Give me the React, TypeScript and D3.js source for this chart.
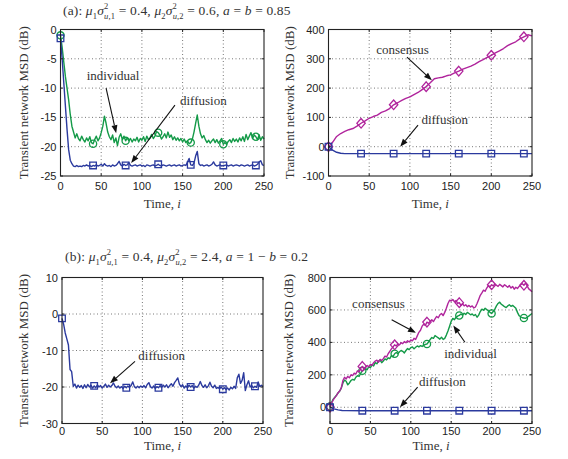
import React from "react";
import * as d3 from "d3";

// sample times: dense series are stored every 2 iterations
const denseT = d3.range(0, 251, 2);
const coarseT = d3.range(0, 251, 5);
const flatT = [0, 5, 10, 15, 20, 40, 80, 120, 160, 200, 240, 250];

const timeTicks = [0, 50, 100, 150, 200, 250];
const markerTimes = [0, 40, 80, 120, 160, 200, 240];

// (a) left panel, dB
const a1Individual = [
  -1, -3, -5.5, -8, -10, -12, -14.5, -16.5, -17.5, -18.5, -17.8,
  -18.6, -19, -18.2, -18.8, -19.2, -18.5, -19, -18.3, -19.3, -19.5, -18.8, -18.2, -19, -18.5, -17.6,
  -16.5, -14.8, -16, -17.5, -18.3, -18.8, -18, -19.3, -18.5, -19.8, -18.4, -17.8, -18.8, -18.2, -19,
  -18.5, -19, -18.6, -19.2, -18.7, -19, -18.4, -19.2, -18.6, -18.9, -18.3, -19.1, -18.2, -18.8, -18.5,
  -17.9, -18.6, -18.2, -17.4, -17.6, -18, -18.7, -18.3, -17.8, -18.5, -17.5, -18.4, -18, -18.8, -18.3,
  -18.9, -18.5, -19, -18.6, -19.2, -18.7, -19.3, -19, -19.5, -19.3, -18.7, -17.5, -16, -14.6, -16.5,
  -17.8, -18.5, -18.1, -18.8, -19.3, -18.9, -19.4, -19, -18.7, -19.3, -18.8, -19.4, -19, -18.6, -19.6,
  -19.3, -19.6, -19.1, -18.8, -19.3, -18.6, -19.1, -18.7, -19.2, -18.5, -19, -18.3, -19.1, -17.9, -18.8,
  -18.2, -17.6, -18.6, -18, -18.3, -18.8, -18, -18.9, -18.3, -18.7,
];
const a1Diffusion = [
  -1.5, -5, -9, -13, -17, -20.5, -22.3, -22.9, -23.3, -23.4, -23.2,
  -23.4, -23.3, -23.4, -23.2, -23.3, -23.1, -23.3, -23.2, -23.4, -23.2, -23.3, -23.1, -23.3, -23.2, -23.0,
  -23.3, -22.9, -23.2, -23.3, -23.2, -23.4, -23.1, -23.3, -23.2, -22.9, -22.5, -23.1, -23.3, -23.0, -23.2,
  -23.1, -22.7, -23.2, -23.3, -23.2, -23.1, -23.3, -23.2, -23.1, -23.3, -23.2, -23.4, -23.1, -23.2, -23.3,
  -23.2, -23.1, -23.3, -23.2, -23.0, -23.2, -23.3, -23.1, -23.2, -23.3, -23.2, -23.1, -23.3, -23.2, -23.1,
  -23.3, -23.2, -23.1, -23.3, -23.2, -23.1, -23.2, -22.6, -22.0, -23.1, -23.2, -22.8, -21.6, -20.8, -22.9,
  -23.2, -23.1, -23.3, -23.2, -23.1, -23.3, -23.2, -23.0, -22.6, -23.1, -23.3, -23.2, -23.1, -23.3, -23.2,
  -23.2, -23.1, -23.3, -23.2, -23.1, -23.3, -23.2, -23.1, -23.2, -23.3, -23.1, -23.2, -23.3, -23.2, -23.1,
  -23.3, -23.2, -23.1, -23.3, -23.2, -23.0, -22.6, -22.4, -23.1, -23.2,
];

// (a) right panel
const a2Consensus = [
  0, 15, 35, 45, 52, 58, 62, 70, 80, 88, 97, 103, 108, 117, 122, 130, 143, 150, 158, 165,
  170, 178, 185, 195, 205, 218, 232, 235, 237, 242, 245, 252, 258, 265, 270, 275, 282, 290,
  297, 305, 312, 320, 327, 335, 345, 352, 358, 368, 375, 382, 378,
];
const a2Diffusion = [0, -12, -19, -22.5, -23.5, -23.5, -23.5, -23.5, -23.5, -23.5, -23.5, -23.5];

// (b) left panel
const b1Diffusion = [
  -1.2, -2.8, -5.2, -6.8, -8.5, -15.2, -15.8, -19.8, -19.2, -20.3, -19.5,
  -20.1, -19.6, -20.4, -19.4, -20.2, -19.3, -20, -19.5, -20.3, -19.7, -20.2, -19.4, -20, -19.6, -20.3,
  -19.8, -19.2, -20.1, -19.5, -20, -19.6, -18.9, -19.8, -20.2, -19.7, -20.3, -19.9, -20.4, -19.8, -20.2,
  -19.7, -20.1, -19.6, -18.6, -19.9, -20.3, -19.8, -20.2, -19.7, -20.1, -19.6, -20.2, -19.3, -18.8, -19.9,
  -20.3, -19.7, -20.4, -19.9, -20.2, -19.6, -20.1, -19.5, -20, -19.4, -20.2, -19.6, -19.1, -19.8, -18.8,
  -18.2, -17.5, -19.2, -19.9, -19.4, -20.3, -19.7, -20.2, -19.5, -20, -19.6, -20.3, -19.8, -20.1, -19.5,
  -18.5, -19.6, -20.1, -19.4, -20.2, -19.7, -18.7, -19.8, -20.2, -19.5, -20.4, -20.1, -20.5, -20, -20.6,
  -20.2, -20.7, -20.3, -20.8, -20.1, -20.5, -19.8, -20.4, -17.5, -16.5, -19, -18.2, -16.1, -21, -19.4,
  -18.3, -20, -19.6, -20.2, -19.8, -20.1, -18.6, -19.9, -19.5, -19.9,
];

// (b) right panel
const b2Consensus = [
  0, 25, 45, 60, 72, 90, 100, 120, 165, 185, 175,
  190, 182, 200, 195, 210, 205, 225, 218, 240, 252, 235, 248, 258, 250, 265,
  258, 275, 285, 290, 278, 295, 288, 300, 315, 310, 330, 345, 360, 372, 385,
  378, 390, 385, 398, 392, 405, 398, 410, 402, 415, 410, 425, 418, 440, 462,
  475, 500, 512, 505, 525, 518, 530, 540, 528, 545, 560, 552, 570, 578, 565,
  585, 610, 640, 660, 655, 665, 650, 658, 640, 645, 628, 638, 625, 632, 620,
  628, 618, 625, 612, 618, 640, 665, 690, 705, 722, 715, 735, 750, 742, 755,
  748, 760, 752, 745, 758, 750, 742, 755, 748, 740, 750, 735, 745, 728, 740,
  732, 745, 755, 762, 752, 765, 748, 730, 722, 712,
];
const b2Individual = [
  5, 30, 50, 62, 75, 88, 100, 118, 150, 168, 160,
  138, 150, 165, 172, 168, 185, 195, 190, 210, 225, 230, 238, 232, 250, 245,
  262, 255, 275, 268, 285, 290, 275, 285, 298, 292, 305, 300, 318, 312, 330,
  338, 330, 342, 350, 345, 335, 350, 362, 355, 368, 372, 360, 370, 378, 372,
  380, 375, 382, 388, 390, 402, 418, 430, 425, 442, 435, 428, 420, 432, 418,
  425, 445, 470, 500, 530, 548, 540, 555, 562, 566, 575, 568, 580, 572, 585,
  578, 570, 575, 565, 572, 555, 568, 590, 605, 598, 610, 602, 595, 585, 578,
  590, 605, 625, 640, 648, 635, 628, 620, 615, 625, 632, 622, 628, 620, 610,
  585, 565, 558, 552, 550, 548, 555, 562, 570, 578,
];
const b2Diffusion = [0, -10, -16, -19.5, -20.5, -21, -21, -21, -21, -21, -21, -21];

const GREEN = "#149a48";
const BLUE = "#2b3a9e";
const MAGENTA = "#b0249c";
const SERIF = "'Liberation Serif', 'Times New Roman', serif";
const SANS = "'Liberation Sans', Arial, sans-serif";

type Marker = "square" | "circle" | "diamond";
type Series = { t: number[]; v: number[]; color: string; marker: Marker };
type Note = { text: string; at: [number, number]; from?: [number, number]; to?: [number, number] };

const markerPath = (m: Marker, cx: number, cy: number) => {
  if (m === "square") return `M${cx - 3.3},${cy - 3.3}h6.6v6.6h-6.6Z`;
  if (m === "diamond") return `M${cx},${cy - 4.8}L${cx + 4.2},${cy}L${cx},${cy + 4.8}L${cx - 4.2},${cy}Z`;
  return `M${cx - 3.6},${cy}a3.6,3.6 0 1,0 7.2,0a3.6,3.6 0 1,0 -7.2,0Z`;
};

function Panel(props: {
  box: { left: number; right: number; top: number; bottom: number };
  yDomain: [number, number];
  yTicks: number[];
  series: Series[];
  notes: Note[];
  yLabelX: number;
  tickY: number;
  xLabelY: number;
}) {
  const { box, yDomain, yTicks, series, notes } = props;
  const x = d3.scaleLinear().domain([0, 250]).range([box.left, box.right]);
  const y = d3.scaleLinear().domain(yDomain).range([box.bottom, box.top]);
  const line = d3
    .line<[number, number]>()
    .x((d) => x(d[0]))
    .y((d) => y(d[1]));

  return (
    <g>
      {/* grid */}
      {timeTicks.slice(1, -1).map((t) => (
        <line key={"gx" + t} x1={x(t)} x2={x(t)} y1={box.top} y2={box.bottom} stroke="#555" strokeWidth={0.8} strokeDasharray="1,2.5" />
      ))}
      {yTicks.filter((v) => v > yDomain[0] && v < yDomain[1]).map((v) => (
        <line key={"gy" + v} x1={box.left} x2={box.right} y1={y(v)} y2={y(v)} stroke="#555" strokeWidth={0.8} strokeDasharray="1,2.5" />
      ))}

      {/* data */}
      {series.map((s, k) => {
        const pts = s.t.map((t, j) => [t, s.v[j]] as [number, number]);
        return (
          <g key={k}>
            <path d={line(pts) || ""} fill="none" stroke={s.color} strokeWidth={1.4} strokeLinejoin="round" />
            {pts
              .filter((p) => markerTimes.includes(p[0]))
              .map((p) => (
                <path key={p[0]} d={markerPath(s.marker, x(p[0]), y(p[1]))} fill="none" stroke={s.color} strokeWidth={1.3} />
              ))}
          </g>
        );
      })}

      {/* frame and ticks */}
      <rect x={box.left} y={box.top} width={box.right - box.left} height={box.bottom - box.top} fill="none" stroke="#222" strokeWidth={1.1} />
      {timeTicks.map((t) => (
        <g key={"tx" + t}>
          <line x1={x(t)} x2={x(t)} y1={box.bottom} y2={box.bottom - 2.5} stroke="#222" />
          <line x1={x(t)} x2={x(t)} y1={box.top} y2={box.top + 2.5} stroke="#222" />
          <text x={x(t)} y={props.tickY} textAnchor="middle" fontFamily={SANS} fontSize={11} fill="#222">
            {t}
          </text>
        </g>
      ))}
      {yTicks.map((v) => (
        <g key={"ty" + v}>
          <line x1={box.left} x2={box.left + 2.5} y1={y(v)} y2={y(v)} stroke="#222" />
          <line x1={box.right} x2={box.right - 2.5} y1={y(v)} y2={y(v)} stroke="#222" />
          <text x={box.left - 4} y={y(v) + 4} textAnchor="end" fontFamily={SANS} fontSize={11} fill="#222">
            {v}
          </text>
        </g>
      ))}

      {/* axis labels */}
      <text
        transform={`translate(${props.yLabelX},${(box.top + box.bottom) / 2}) rotate(-90)`}
        textAnchor="middle"
        fontFamily={SERIF}
        fontSize={13}
        fill="#333"
      >
        Transient network MSD (dB)
      </text>
      <text x={(box.left + box.right) / 2} y={props.xLabelY} textAnchor="middle" fontFamily={SERIF} fontSize={13} fill="#333">
        Time, <tspan fontStyle="italic">i</tspan>
      </text>

      {/* annotations */}
      {notes.map((n, k) => {
        let arrow = null;
        if (n.from && n.to) {
          const x1 = x(n.from[0]), y1 = y(n.from[1]);
          const x2 = x(n.to[0]), y2 = y(n.to[1]);
          const len = Math.hypot(x2 - x1, y2 - y1);
          const ux = (x2 - x1) / len, uy = (y2 - y1) / len;
          const bx = x2 - ux * 8, by = y2 - uy * 8;
          arrow = (
            <g>
              <line x1={x1} y1={y1} x2={bx} y2={by} stroke="#111" strokeWidth={1.1} />
              <path d={`M${x2},${y2}L${bx - uy * 3},${by + ux * 3}L${bx + uy * 3},${by - ux * 3}Z`} fill="#111" />
            </g>
          );
        }
        return (
          <g key={k}>
            {arrow}
            <text x={x(n.at[0])} y={y(n.at[1])} textAnchor="middle" fontFamily={SERIF} fontSize={13} fill="#333">
              {n.text}
            </text>
          </g>
        );
      })}
    </g>
  );
}

// panel title with stacked super/subscripts, e.g. μ1σ²u,1
function Title(props: { x: number; y: number; tag: string; m1: string; m2: string; tail: React.ReactNode }) {
  const sub = 8.5;
  const sigma = (k: string, val: string) => (
    <>
      <tspan fontStyle="italic">μ</tspan>
      <tspan fontSize={sub} dy={3.5}>{k}</tspan>
      <tspan fontStyle="italic" dy={-3.5}>σ</tspan>
      <tspan fontSize={sub} dy={-6}>2</tspan>
      <tspan fontSize={sub} fontStyle="italic" dx={-4.3} dy={10}>u</tspan>
      <tspan fontSize={sub}>{"," + k}</tspan>
      <tspan dy={-4}>{" = " + val + ", "}</tspan>
    </>
  );
  return (
    <text x={props.x} y={props.y} fontFamily={SERIF} fontSize={13.5} fill="#333" letterSpacing={0.15}>
      <tspan>{props.tag + ": "}</tspan>
      {sigma("1", props.m1)}
      {sigma("2", props.m2)}
      {props.tail}
    </text>
  );
}

export default function App() {
  return (
    <svg width={568} height={459} style={{ position: "absolute", left: 0, top: 0, background: "#fff" }}>
      <Title
        x={63}
        y={15}
        tag="(a)"
        m1="0.4"
        m2="0.6"
        tail={
          <>
            <tspan fontStyle="italic">a</tspan>
            <tspan>{" = "}</tspan>
            <tspan fontStyle="italic">b</tspan>
            <tspan>{" = 0.85"}</tspan>
          </>
        }
      />
      <Title
        x={65}
        y={261}
        tag="(b)"
        m1="0.4"
        m2="2.4"
        tail={
          <>
            <tspan fontStyle="italic">a</tspan>
            <tspan>{" = 1 − "}</tspan>
            <tspan fontStyle="italic">b</tspan>
            <tspan>{" = 0.2"}</tspan>
          </>
        }
      />

      <Panel
        box={{ left: 60.5, right: 264, top: 29.5, bottom: 176 }}
        yDomain={[-25, 0]}
        yTicks={[-25, -20, -15, -10, -5, 0]}
        series={[
          { t: denseT, v: a1Individual, color: GREEN, marker: "circle" },
          { t: denseT, v: a1Diffusion, color: BLUE, marker: "square" },
        ]}
        notes={[
          { text: "individual", at: [64.6, -8.7], from: [56, -10], to: [68.4, -17.7] },
          { text: "diffusion", at: [175.5, -12.9], from: [140.6, -12.9], to: [86.8, -22.8] },
        ]}
        yLabelX={28}
        tickY={190}
        xLabelY={208}
      />
      <Panel
        box={{ left: 328.5, right: 532, top: 29.5, bottom: 176 }}
        yDomain={[-100, 400]}
        yTicks={[-100, 0, 100, 200, 300, 400]}
        series={[
          { t: coarseT, v: a2Consensus, color: MAGENTA, marker: "diamond" },
          { t: flatT, v: a2Diffusion, color: BLUE, marker: "square" },
        ]}
        notes={[
          { text: "consensus", at: [91, 318], from: [96.4, 306], to: [127, 226.5] },
          { text: "diffusion", at: [142.8, 77], from: [110, 73.5], to: [88, -0.3] },
        ]}
        yLabelX={294}
        tickY={190}
        xLabelY={208}
      />
      <Panel
        box={{ left: 62, right: 263, top: 277.5, bottom: 423.5 }}
        yDomain={[-30, 10]}
        yTicks={[-30, -20, -10, 0, 10]}
        series={[{ t: denseT, v: b1Diffusion, color: BLUE, marker: "square" }]}
        notes={[{ text: "diffusion", at: [124, -12.5], from: [90.8, -13], to: [59.7, -19] }]}
        yLabelX={28}
        tickY={435}
        xLabelY={450}
      />
      <Panel
        box={{ left: 330, right: 532, top: 277.5, bottom: 423.5 }}
        yDomain={[-100, 800]}
        yTicks={[0, 200, 400, 600, 800]}
        series={[
          { t: denseT, v: b2Individual, color: GREEN, marker: "circle" },
          { t: denseT, v: b2Consensus, color: MAGENTA, marker: "diamond" },
          { t: flatT, v: b2Diffusion, color: BLUE, marker: "square" },
        ]}
        notes={[
          { text: "consensus", at: [60, 615], from: [76.3, 539], to: [106.4, 459] },
          { text: "individual", at: [174, 304], from: [167, 401], to: [152.6, 504] },
          { text: "diffusion", at: [139, 131], from: [108.5, 124], to: [86.6, 0.5] },
        ]}
        yLabelX={293}
        tickY={435}
        xLabelY={450}
      />
    </svg>
  );
}
